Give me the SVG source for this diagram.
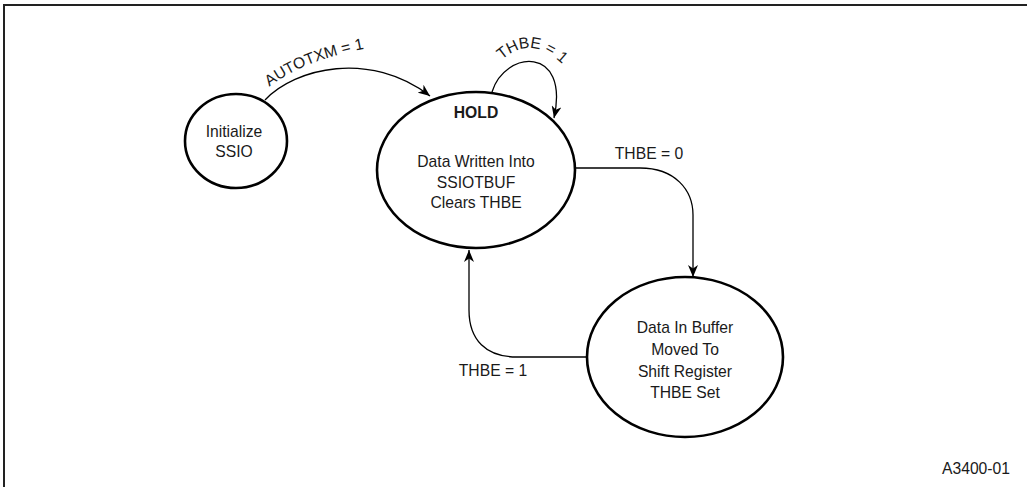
<svg xmlns="http://www.w3.org/2000/svg" width="1027" height="487" viewBox="0 0 1027 487">
<style>
.node{fill:#fff;stroke:#000;stroke-width:2.6}
.t{font-family:"Liberation Sans",Arial,sans-serif;font-size:15.7px;fill:#1a1a1a;text-anchor:middle}
.b{font-weight:bold}
.c{fill:none;stroke:#000;stroke-width:1.3}
.frame{fill:none;stroke:#222;stroke-width:2}
</style>
<defs>
<marker id="ah" viewBox="0 0 12 10" refX="12" refY="5" markerWidth="12" markerHeight="10" markerUnits="userSpaceOnUse" orient="auto">
<path d="M0,0 L12,5 L0,10 L3.5,5 z" fill="#000"/>
</marker>
<path id="p1" d="M262,93 Q298,60 374,47"/>
<path id="p2" d="M494,68 Q530,26 570,72"/>
</defs>
<rect class="frame" x="4" y="5" width="1040" height="500"/>
<g id="connectors">
<path class="c" d="M265,100 C295,68 370,50 430,96" marker-end="url(#ah)"/>
<path class="c" d="M492,92 C505,50 570,45 554,118" marker-end="url(#ah)"/>
<path class="c" d="M575,168 L640,168 C675,168 693,190 693,215 L693,277" marker-end="url(#ah)"/>
<path class="c" d="M587,357 L517,357 C486,357 469,340 469,310 L469,250" marker-end="url(#ah)"/>
<text class="t"><textPath href="#p1" startOffset="50%">AUTOTXM = 1</textPath></text>
<text class="t"><textPath href="#p2" startOffset="50%">THBE = 1</textPath></text>
<text class="t" x="649" y="159">THBE = 0</text>
<text class="t" x="493" y="376">THBE = 1</text>
</g>
<g id="init">
<ellipse class="node" cx="236" cy="141" rx="51" ry="47"/>
<text class="t" x="234" y="137">Initialize</text>
<text class="t" x="234" y="157">SSIO</text>
</g>
<g id="hold">
<ellipse class="node" cx="476" cy="170" rx="99" ry="78"/>
<text class="t b" x="476" y="118">HOLD</text>
<text class="t" x="476" y="167">Data Written Into</text>
<text class="t" x="476" y="188">SSIOTBUF</text>
<text class="t" x="476" y="208">Clears THBE</text>
</g>
<g id="shift">
<ellipse class="node" cx="685" cy="357" rx="98" ry="80"/>
<text class="t" x="685" y="333">Data In Buffer</text>
<text class="t" x="685" y="355">Moved To</text>
<text class="t" x="685" y="377">Shift Register</text>
<text class="t" x="685" y="398">THBE Set</text>
</g>
<text class="t" x="976" y="474">A3400-01</text>
</svg>
